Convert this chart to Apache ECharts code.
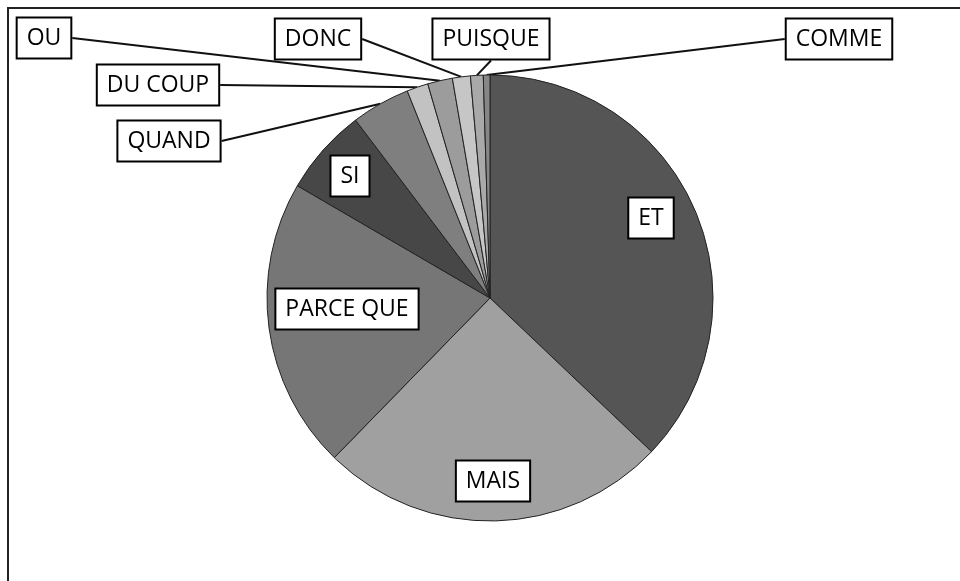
<!DOCTYPE html>
<html>
<head>
<meta charset="utf-8">
<script src="https://cdn.jsdelivr.net/npm/echarts@6/dist/echarts.min.js"></script>
<style>
  html, body { margin: 0; padding: 0; background: #fff; }
  #chart { width: 960px; height: 581px; }
</style>
</head>
<body>
<div id="chart"></div>
<script>
// share of each connector (percent), clockwise from 12 o'clock
const names = ['ET', 'MAIS', 'PARCE QUE', 'SI', 'QUAND', 'DU COUP', 'OU', 'DONC', 'PUISQUE', 'COMME'];
const values = [37.1, 25.2, 21.1, 6.3, 4.25, 1.55, 1.8, 1.3, 0.92, 0.48];
const greys = ['#555555', '#a0a0a0', '#767676', '#474747', '#7f7f7f', '#c2c2c2', '#9c9c9c', '#c6c6c6', '#a9a9a9', '#868686'];
// labels drawn inside their slice
const insideNames = ['ET', 'MAIS', 'PARCE QUE', 'SI'];

// label box centres (layout only)
const labelPos = {
  'ET': [651, 218],
  'MAIS': [493, 481],
  'PARCE QUE': [347, 309],
  'SI': [350, 176],
  'QUAND': [169, 141],
  'DU COUP': [158, 85],
  'OU': [44, 38],
  'DONC': [318, 39],
  'PUISQUE': [491, 39],
  'COMME': [839, 39]
};

const chart = echarts.init(document.getElementById('chart'));

const data = names.map((n, i) => {
  const inside = insideNames.indexOf(n) >= 0;
  return {
    name: n,
    value: values[i],
    itemStyle: { color: greys[i] },
    label: { position: inside ? 'inside' : 'outside' },
    labelLine: { show: !inside }
  };
});

chart.setOption({
  animation: false,
  graphic: [{
    type: 'rect',
    shape: { x: 8, y: 8, width: 1000, height: 1000 },
    style: { fill: 'none', stroke: '#222', lineWidth: 2 },
    silent: true
  }],
  series: [{
    type: 'pie',
    center: [490, 298],
    radius: 223,
    startAngle: 90,
    clockwise: true,
    avoidLabelOverlap: false,
    itemStyle: { borderColor: '#222', borderWidth: 1 },
    label: {
      show: true,
      formatter: '{b}',
      fontFamily: 'Open Sans',
      fontSize: 23,
      lineHeight: 24,
      color: '#000',
      backgroundColor: '#fff',
      borderColor: '#000',
      borderWidth: 2,
      padding: [8, 9, 7, 9]
    },
    labelLine: {
      show: true,
      length: 0,
      length2: 0,
      smooth: false,
      lineStyle: { color: '#111', width: 2 }
    },
    labelLayout: function (params) {
      const p = labelPos[names[params.dataIndex]];
      return { x: p[0], y: p[1], align: 'center', verticalAlign: 'middle' };
    },
    emphasis: { disabled: true },
    data: data
  }]
});
</script>
</body>
</html>
